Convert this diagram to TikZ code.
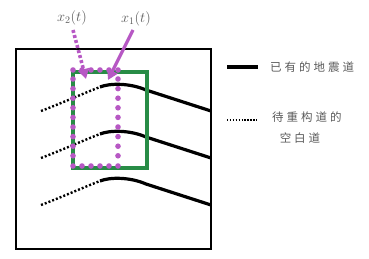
\documentclass[tikz,border=0pt]{standalone}
\usepackage{fontspec}
\newfontfamily\cjk[LetterSpace=26]{Noto Sans CJK SC}
\usetikzlibrary{arrows.meta}
\definecolor{mag}{RGB}{183,88,196}
\definecolor{grn}{RGB}{40,140,70}
\definecolor{txt}{RGB}{90,90,90}
\begin{document}
\begin{tikzpicture}[x=1pt,y=-1pt,
  trace/.style={line width=3.2pt,black},
  gap/.style={line width=2.4pt,black,dash pattern=on 2pt off 2pt},
  mdot/.style={fill=mag,draw=none},
  lab/.style={text=txt,font=\fontsize{11.5}{13}\selectfont\cjk,inner sep=0pt}]
\useasboundingbox (0,0) rectangle (369,259);
% frame
\draw[line width=1.2pt] (16,49) rectangle (211,249);
% traces
\foreach \dy in {0,47,94}{
  \begin{scope}[yshift=-\dy pt]
  \draw[gap] (41,111) .. controls (62,103) and (82,94) .. (100,87);
  \draw[trace] (100,87) .. controls (110,83) and (130,83) .. (146,90) -- (211,111);
  \end{scope}
}
% green box
\draw[grn,line width=3.3pt] (73,72) rectangle (147,168);
% magenta dotted box
\foreach \x in {73,82,91,100,109,118}{
  \fill[mdot] (\x,70) circle (2.8pt);
  \fill[mdot] (\x,166) circle (2.8pt);
}
\foreach \y in {79,88.6,98.2,107.8,117.4,127,136.6,146.2,155.8}{
  \fill[mdot] (73,\y) circle (2.8pt);
  \fill[mdot] (118,\y) circle (2.8pt);
}
% labels
\node[text=txt,font=\fontsize{14}{16}\selectfont] (l2) at (72,18) {$x_2(t)$};
\node[text=txt,font=\fontsize{14}{16}\selectfont] (l1) at (136,19) {$x_1(t)$};
\coordinate (a2s) at (73,30);
\coordinate (a2e) at (86,79);
\coordinate (a1s) at (133,30);
\coordinate (a1e) at (108,80);
\draw[mag,line width=3.6pt,dash pattern=on 3pt off 2.2pt,-{Triangle[width=11pt,length=10pt]}] (a2s) -- (a2e);
\draw[mag,line width=3.2pt,-{Triangle[width=11pt,length=10pt]}] (a1s) -- (a1e);
% legend
\coordinate (s1) at (227,67);
\coordinate (e1) at (258,67);
\draw[line width=3.2pt] (s1) -- (e1);
\node[lab,anchor=west] (t1) at (270,67) {已有的地震道};
\coordinate (s2) at (227,120);
\coordinate (e2) at (258,120);
\draw[line width=1.8pt,dash pattern=on 1.4pt off 1.5pt] (s2) -- (e2);
\node[lab,anchor=west] (t2) at (272,117) {待重构道的};
\node[lab] (t3) at (300,138) {空白道};
\end{tikzpicture}
\end{document}
